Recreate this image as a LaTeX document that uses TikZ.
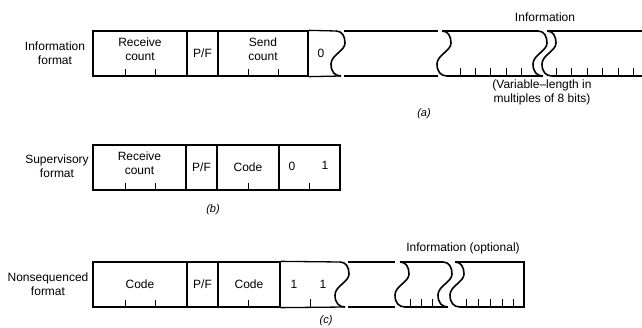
\documentclass[tikz,border=0pt]{standalone}
\usepackage{fontspec}
\setmainfont{Liberation Sans}
\usetikzlibrary{positioning,calc}

\begin{document}
\begin{tikzpicture}[
    x=1pt, y=-1pt,
    line width=1.3pt,
    font=\fontsize{12}{14}\selectfont,
    field/.style={rectangle, draw=black, minimum height=45pt, inner sep=0pt, align=center},
    twoline/.style={align=center, yshift=4pt},
    rowname/.style={align=center},
    caption/.style={font=\fontsize{11}{14}\selectfont\itshape},
    tick/.style={line width=0.9pt},
    wave/.pic={\draw[line width=1.6pt] (0,0) .. controls (6,0) and (9,5) .. (9,12) .. controls (9,20) and (-5,24) .. (-5,33) .. controls (-5,41) and (-1,45) .. (5,45);}
]
\useasboundingbox (0,0) rectangle (642,328);

% Information format
\node[rowname] (aname) at (55,53) {Information\\format};
\node[field, minimum width=94pt, label={[twoline]center:Receive\\count}] (arecv) at (140,53.5) {};
\node[field, minimum width=31pt] (apf) at (202.5,53.5) {P/F};
\node[field, minimum width=90pt, label={[twoline]center:Send\\count}] (asend) at (263,53.5) {};
\node (azero) at (321,53.5) {0};
\foreach \x in {125,155} \draw[tick] (\x,0 |- arecv.south) -- ++(0,-8);
\foreach \x in {248,278} \draw[tick] (\x,0 |- asend.south) -- ++(0,-8);

% open end of the frame
\draw (asend.north east) -- (336,31);
\draw (asend.south east) -- (341,76);
\pic at (336,31) {wave};
\draw (344,31) -- (438,31) (344,76) -- (438,76);
\pic at (442,31) {wave};
\draw (442,31) -- (538,31) (447,76) -- (543,76);
\pic at (538,31) {wave};
\foreach \x in {460,475,490,506,521} \draw[tick] (\x,76) -- ++(0,-8);
\pic at (547,31) {wave};
\draw (547,31) -- (642,31) (552,76) -- (642,76);
\foreach \x in {556,571,587,602,618,633} \draw[tick] (\x,76) -- ++(0,-8);

\node (ainfo) at (545,17) {Information};
\node[align=center] (avar) at (542,92) {(Variable--length in\\multiples of 8 bits)};
\node[caption] (acap) at (424,114) {(a)};

% Supervisory format
\node[rowname] (bname) at (57,166) {Supervisory\\format};
\node[field, minimum width=93pt, label={[twoline]center:Receive\\count}] (brecv) at (139.5,167.5) {};
\node[field, minimum width=31pt] (bpf) at (201.5,167.5) {P/F};
\node[field, minimum width=62pt] (bcode) at (248,167.5) {Code};
\node[field, minimum width=61pt] (bbits) at (309.5,167.5) {};
\node (bzero) at (292,166) {0};
\node (bone) at (325,165) {1};
\foreach \x in {125,155} \draw[tick] (\x,0 |- brecv.south) -- ++(0,-8);
\draw[tick] (248,0 |- bcode.south) -- ++(0,-8);
\draw[tick] (309,0 |- bbits.south) -- ++(0,-8);
\node[caption] (bcap) at (213,210) {(b)};

% Nonsequenced format
\node[rowname] (cname) at (48,284.5) {Nonsequenced\\format};
\node[field, minimum width=94pt] (ccode) at (140,284.5) {Code};
\node[field, minimum width=31pt] (cpf) at (202.5,284.5) {P/F};
\node[field, minimum width=62pt] (ccodeb) at (249,284.5) {Code};
\node (conea) at (294,284.5) {1};
\node (coneb) at (323,284.5) {1};
\foreach \x in {125,155} \draw[tick] (\x,0 |- ccode.south) -- ++(0,-8);
\draw[tick] (248,0 |- ccodeb.south) -- ++(0,-8);
\draw[tick] (310,307) -- ++(0,-8);

% open end of the frame
\draw (ccodeb.north east) -- (340,262);
\draw (ccodeb.south east) -- (345,307);
\pic at (340,262) {wave};
\draw (348,262) -- (395,262) (348,307) -- (395,307);
\pic at (400,262) {wave};
\draw (400,262) -- (443,262) (405,307) -- (448,307);
\pic at (443,262) {wave};
\foreach \x in {410,421,432} \draw[tick] (\x,307) -- ++(0,-8);
\pic at (455,262) {wave};
\draw (455,262) -- (524,262) -- (524,307) -- (460,307);
\foreach \x in {466,478,490,502,513} \draw[tick] (\x,307) -- ++(0,-8);

\node (cinfo) at (463,248) {Information (optional)};
\node[caption] (ccap) at (326,321) {(c)};

\end{tikzpicture}
\end{document}
